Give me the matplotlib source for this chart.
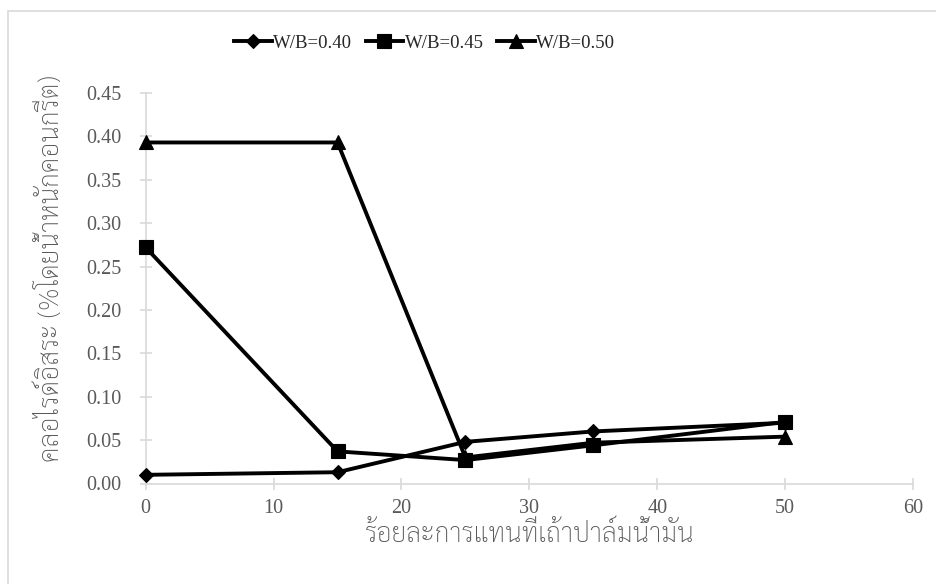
import matplotlib
matplotlib.use("Agg")
import matplotlib.pyplot as plt
from matplotlib.patches import Rectangle

# replacement level of oil palm ash (%) and free chloride (% by weight of concrete)
replacement = [0, 15, 25, 35, 50]
chloride_040 = [0.010, 0.013, 0.048, 0.060, 0.070]
chloride_045 = [0.272, 0.037, 0.027, 0.044, 0.071]
chloride_050 = [0.393, 0.393, 0.030, 0.047, 0.054]
series_labels = ["W/B=0.40", "W/B=0.45", "W/B=0.50"]

x_ticks = [0, 10, 20, 30, 40, 50, 60]
y_ticks = [0.00, 0.05, 0.10, 0.15, 0.20, 0.25, 0.30, 0.35, 0.40, 0.45]

x_title = "ร้อยละการแทนที่เถ้าปาล์มน้ำมัน"
y_title = "คลอไรด์อิสระ (%โดยน้ำหนักคอนกรีต)"

W, H = 937, 584
GRAY_TEXT = "#595959"
GRAY_LINE = "#d9d9d9"
THAI = ["Sarabun", "DejaVu Sans"]
SERIF = "Liberation Serif"

fig = plt.figure(figsize=(W / 100, H / 100), dpi=100)
ax = fig.add_axes([145.7 / W, 1 - 483.5 / H, (913 - 145.7) / W, (483.5 - 93) / H])

# chart area border
fig.patches.append(Rectangle((8 / W, -0.1), 1.2, 1.1 - 11 / H, transform=fig.transFigure,
                             fill=False, edgecolor=GRAY_LINE, linewidth=1.2))

styles = [("D", 7.5), ("s", 10), ("^", 10)]
for ys, label, (mk, ms) in zip([chloride_040, chloride_045, chloride_050], series_labels, styles):
    ax.plot(replacement, ys, color="black", linewidth=2.8, marker=mk, markersize=ms,
            markeredgewidth=0.8, label=label, clip_on=False)

ax.set_xlim(0, 60)
ax.set_ylim(0, 0.45)
ax.set_xticks(x_ticks)
ax.set_yticks(y_ticks)
ax.set_xticklabels([str(v) for v in x_ticks])
ax.set_yticklabels([f"{v:.2f}" for v in y_ticks])

for side in ["top", "right"]:
    ax.spines[side].set_visible(False)
for side in ["left", "bottom"]:
    ax.spines[side].set_color(GRAY_LINE)
    ax.spines[side].set_linewidth(1.2)
    ax.spines[side].set_zorder(0.5)

ax.tick_params(axis="both", direction="inout", length=9, width=1.2, color=GRAY_LINE,
               labelcolor=GRAY_TEXT, labelsize=14.5)
ax.tick_params(axis="y", pad=13)
ax.tick_params(axis="x", pad=7)
for lbl in ax.get_xticklabels() + ax.get_yticklabels():
    lbl.set_fontfamily(SERIF)

ax.set_xlabel(x_title, family=THAI, fontsize=19, weight="light", color=GRAY_TEXT, labelpad=2)
ax.set_ylabel(y_title, family=THAI, fontsize=19, weight="light", color=GRAY_TEXT)
ax.yaxis.set_label_coords(-0.105, 0.55)

leg = ax.legend(loc="center left", bbox_to_anchor=(234 / W, 1 - 43 / H), bbox_transform=fig.transFigure,
                ncol=3, frameon=False, handlelength=2.0, handletextpad=0.1, columnspacing=0.7,
                borderaxespad=0, borderpad=0, prop={"family": SERIF, "size": 13.5})
for t in leg.get_texts():
    t.set_color("#262626")

fig.savefig("out.png", dpi=100)
